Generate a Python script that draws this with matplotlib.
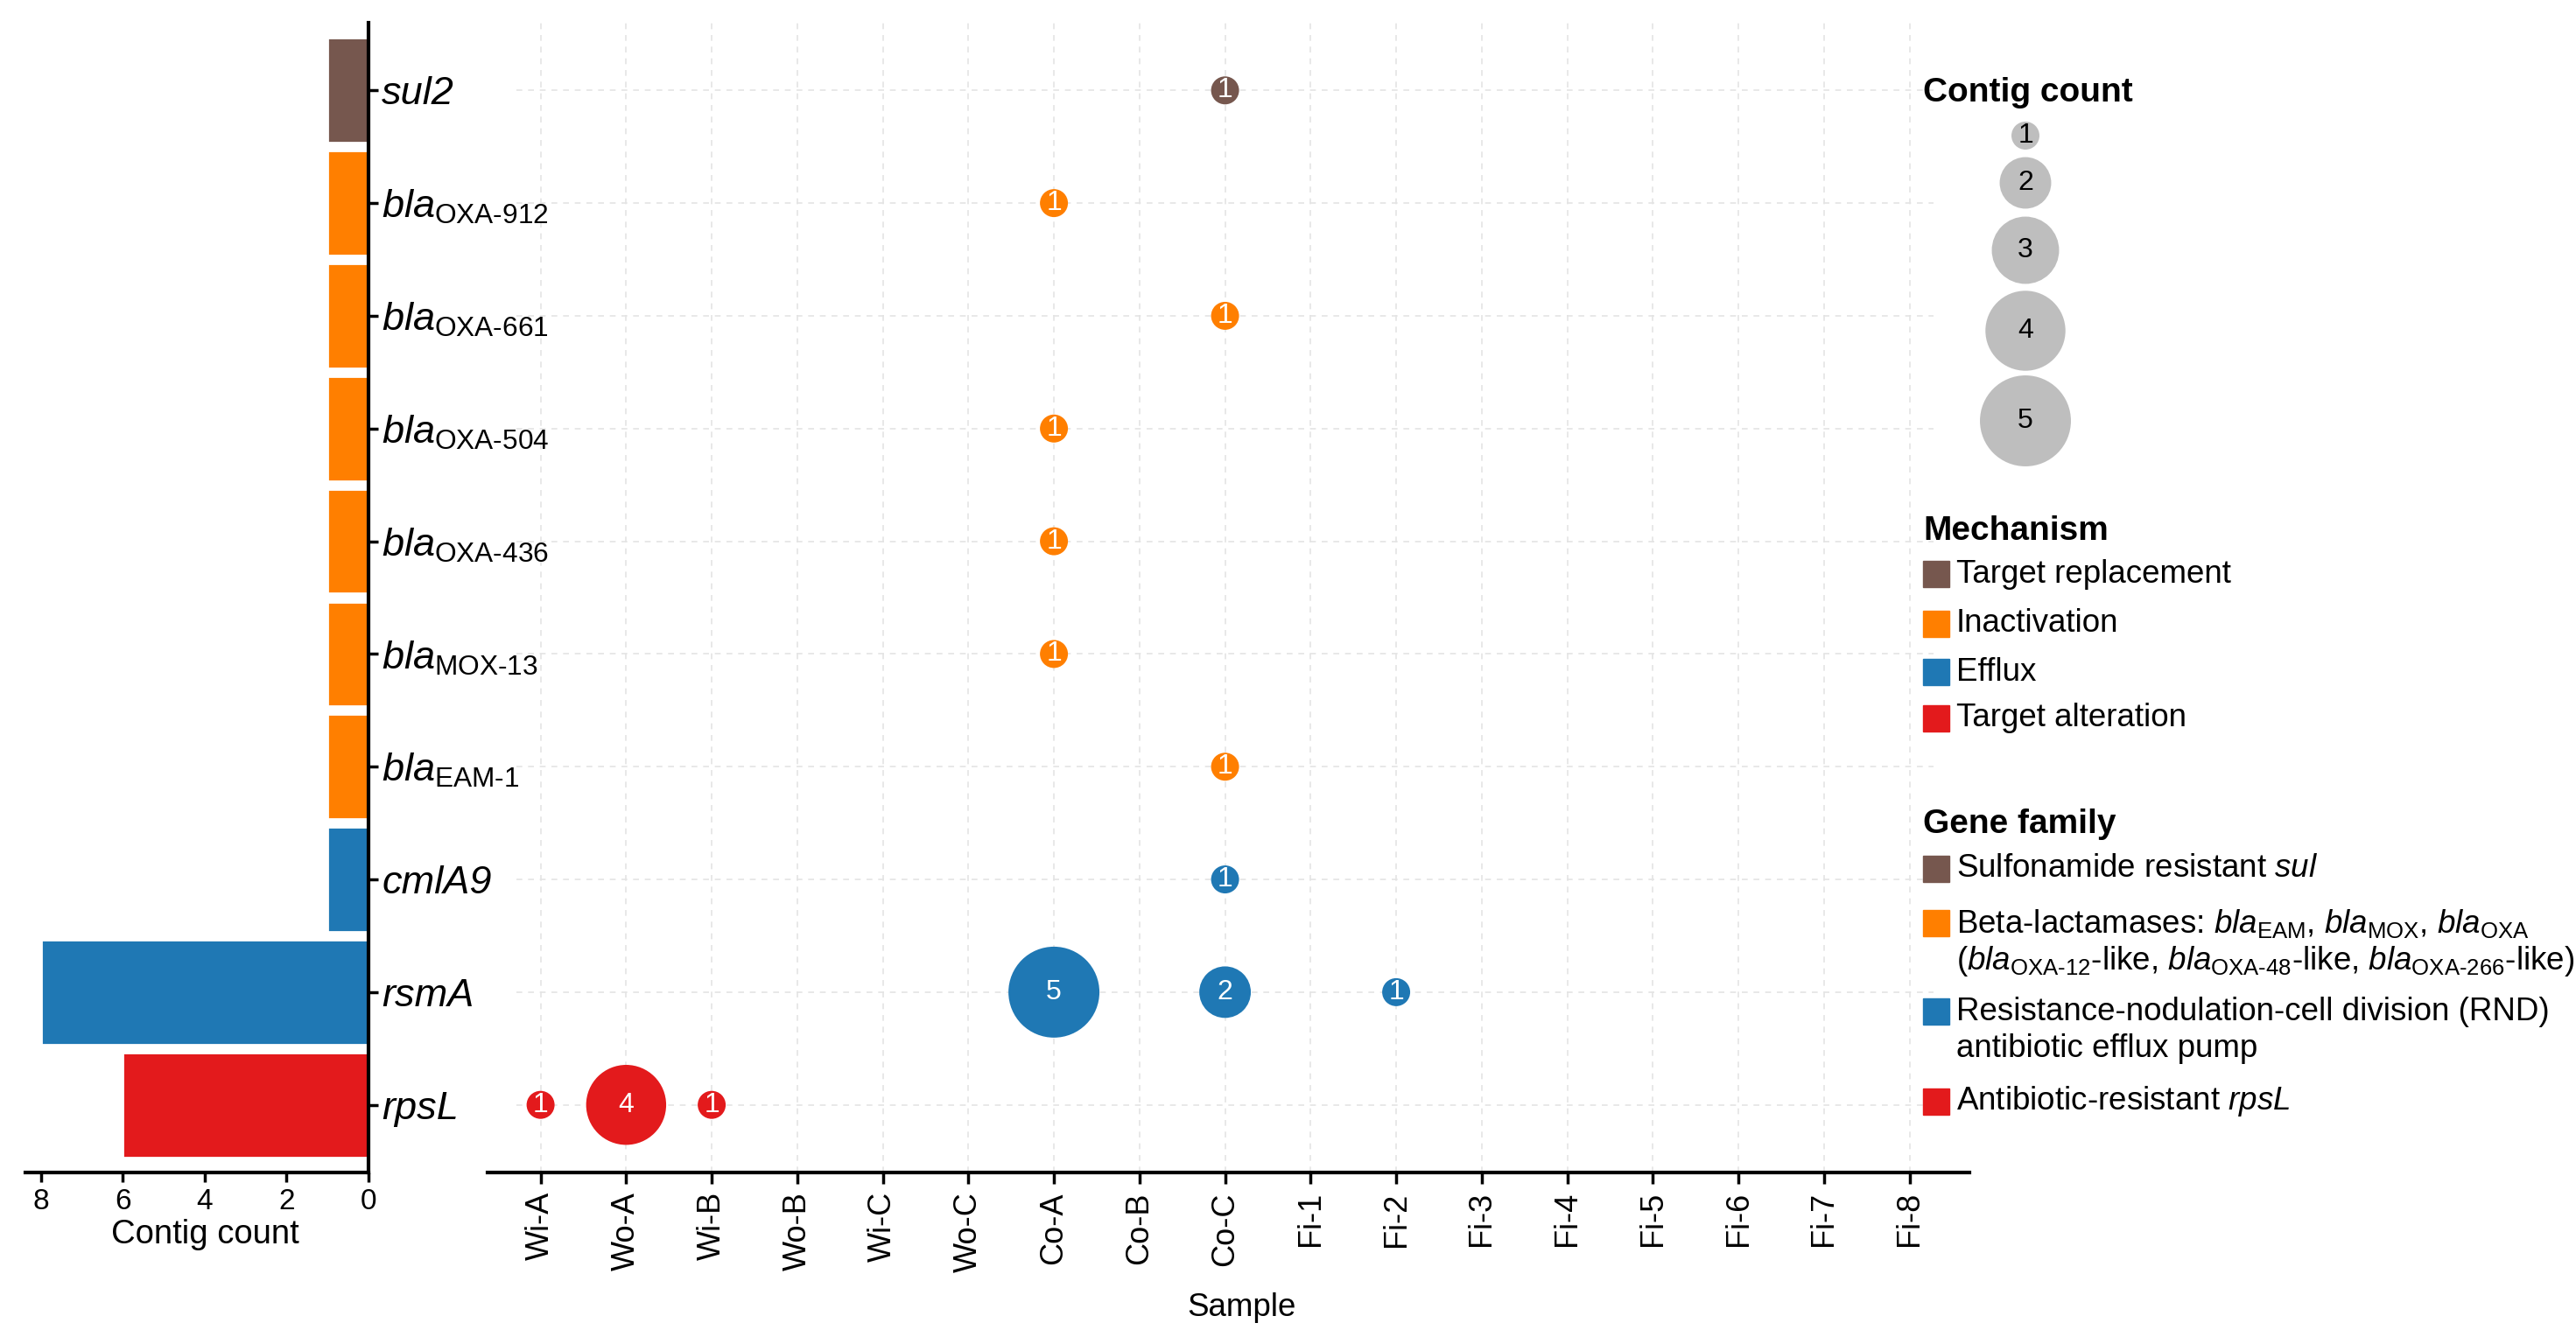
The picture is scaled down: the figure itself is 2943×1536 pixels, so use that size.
import numpy as np
import matplotlib
matplotlib.use("Agg")
import matplotlib.pyplot as plt
from matplotlib.patches import Rectangle

plt.rcParams['font.family'] = ['Liberation Sans', 'DejaVu Sans']
plt.rcParams['mathtext.fontset'] = 'custom'
plt.rcParams['mathtext.rm'] = 'Liberation Sans'
plt.rcParams['mathtext.it'] = 'Liberation Sans:italic'
plt.rcParams['mathtext.bf'] = 'Liberation Sans:bold'

# genes, top to bottom, with their resistance mechanism
genes = ['sul2', 'blaOXA-912', 'blaOXA-661', 'blaOXA-504', 'blaOXA-436',
         'blaMOX-13', 'blaEAM-1', 'cmlA9', 'rsmA', 'rpsL']
gene_mech = ['Target replacement', 'Inactivation', 'Inactivation', 'Inactivation',
             'Inactivation', 'Inactivation', 'Inactivation', 'Efflux', 'Efflux',
             'Target alteration']

samples = ['Wi-A', 'Wo-A', 'Wi-B', 'Wo-B', 'Wi-C', 'Wo-C', 'Co-A', 'Co-B', 'Co-C',
           'Fi-1', 'Fi-2', 'Fi-3', 'Fi-4', 'Fi-5', 'Fi-6', 'Fi-7', 'Fi-8']

# contig hits per gene and sample
hit_gene = ['sul2', 'blaOXA-912', 'blaOXA-661', 'blaOXA-504', 'blaOXA-436',
            'blaMOX-13', 'blaEAM-1', 'cmlA9', 'rsmA', 'rsmA', 'rsmA',
            'rpsL', 'rpsL', 'rpsL']
hit_sample = ['Co-C', 'Co-A', 'Co-C', 'Co-A', 'Co-A', 'Co-A', 'Co-C', 'Co-C',
              'Co-A', 'Co-C', 'Fi-2', 'Wi-A', 'Wo-A', 'Wi-B']
hit_count = [1, 1, 1, 1, 1, 1, 1, 1, 5, 2, 1, 1, 4, 1]

mech_names = ['Target replacement', 'Inactivation', 'Efflux', 'Target alteration']
mech_colors = ['#76574E', '#FF7F00', '#1F78B4', '#E31A1C']

family_lines = [
    ['Sulfonamide resistant $\\mathit{sul}$'],
    ['Beta-lactamases: $\\mathit{bla}_{\\mathrm{EAM}}$, $\\mathit{bla}_{\\mathrm{MOX}}$, '
     '$\\mathit{bla}_{\\mathrm{OXA}}$',
     '($\\mathit{bla}_{\\mathrm{OXA}\\text{-}\\mathrm{12}}$-like, '
     '$\\mathit{bla}_{\\mathrm{OXA}\\text{-}\\mathrm{48}}$-like, '
     '$\\mathit{bla}_{\\mathrm{OXA}\\text{-}\\mathrm{266}}$-like)'],
    ['Resistance-nodulation-cell division (RND)', 'antibiotic efflux pump'],
    ['Antibiotic-resistant $\\mathit{rpsL}$'],
]
family_colors = ['#76574E', '#FF7F00', '#1F78B4', '#E31A1C']

color_of = dict(zip(mech_names, mech_colors))
gene_colors = [color_of[m] for m in gene_mech]
gene_pos = {g: i for i, g in enumerate(genes)}
sample_pos = {s: i for i, s in enumerate(samples)}
totals = [sum(c for g, c in zip(hit_gene, hit_count) if g == name) for name in genes]


def gene_label(g):
    if g.startswith('bla'):
        a, b = g[3:].split('-')
        return r'$\mathit{bla}_{\mathrm{%s}\text{-}\mathrm{%s}}$' % (a, b)
    return g


def dot_size(n):
    return 530 + (np.asarray(n, dtype=float) - 1) / 4 * (5600 - 530)


W, H = 2943, 1536
fig = plt.figure(figsize=(W / 100, H / 100), dpi=100)

bottom = (H - 1340) / H
height = 1314 / H
ax_dot = fig.add_axes([557 / W, bottom, 1693 / W, height])
ax_bar = fig.add_axes([29 / W, bottom, 392 / W, height])
ax_bar.set_zorder(3)
ax_bar.patch.set_visible(False)

# bar panel
ax_bar.barh(range(len(genes)), totals, height=0.93, color=gene_colors,
            edgecolor='white', linewidth=2)
ax_bar.set_xlim(8.385, 0)
ax_bar.set_ylim(len(genes) - 0.4, -0.6)
ax_bar.set_xticks([8, 6, 4, 2, 0])
ax_bar.yaxis.tick_right()
ax_bar.set_yticks(range(len(genes)))
ax_bar.set_yticklabels([gene_label(g) for g in genes], fontstyle='italic')
for side in ['top', 'left']:
    ax_bar.spines[side].set_visible(False)
for side in ['right', 'bottom']:
    ax_bar.spines[side].set_linewidth(3)
ax_bar.tick_params(axis='x', length=8, width=2.5, labelsize=24, pad=5)
ax_bar.tick_params(axis='y', length=8, width=2.5, labelsize=32.5, pad=3)

# dot panel
ax_dot.set_xlim(-0.62, len(samples) - 0.3)
ax_dot.set_ylim(len(genes) - 0.4, -0.6)
ax_dot.set_xticks(range(len(samples)))
ax_dot.set_xticklabels(samples, rotation=90)
ax_dot.set_yticks([])
ax_dot.patch.set_visible(False)
ax_dot.grid(axis='x', color='#E4E4E4', linestyle=(0, (4, 4)), linewidth=1.2)
ax_dot.hlines(range(len(genes)), -0.28, len(samples) - 0.72, color='#E4E4E4',
              linestyle=(0, (4, 4)), linewidth=1.2, zorder=1)
ax_dot.set_axisbelow(True)
for side in ['top', 'left', 'right']:
    ax_dot.spines[side].set_visible(False)
ax_dot.spines['bottom'].set_linewidth(3)
ax_dot.tick_params(axis='x', length=9, width=2.5, labelsize=26, pad=7)

hx = [sample_pos[s] for s in hit_sample]
hy = [gene_pos[g] for g in hit_gene]
hc = [gene_colors[gene_pos[g]] for g in hit_gene]
ax_dot.scatter(hx, hy, s=dot_size(hit_count), c=hc, edgecolors='none', zorder=3)
for x, y, n in zip(hx, hy, hit_count):
    ax_dot.text(x, y, str(n), color='white', fontsize=23, ha='center',
                va='center', zorder=4)

fig.text(234 / W, 1 - 1411 / H, 'Contig count', fontsize=27.5, ha='center', va='center')
fig.text(1418 / W, 1 - 1495 / H, 'Sample', fontsize=26.5, ha='center', va='center')

# legends, drawn on an overlay in pixel coordinates
ax_leg = fig.add_axes([0, 0, 1, 1])
ax_leg.set_xlim(0, W)
ax_leg.set_ylim(H, 0)
ax_leg.axis('off')

lx = 2197
ax_leg.text(lx, 106, 'Contig count', fontsize=28, fontweight='bold', va='center')
legend_counts = [1, 2, 3, 4, 5]
legend_y = [155, 209, 286, 378, 481]
ax_leg.scatter([2314] * 5, legend_y, s=dot_size(legend_counts), c='#BEBEBE',
               edgecolors='none')
for y, n in zip(legend_y, legend_counts):
    ax_leg.text(2314, y, str(n), fontsize=23, ha='center', va='center')

ax_leg.text(lx, 607, 'Mechanism', fontsize=28, fontweight='bold', va='center')
for y, name, col in zip([656, 713, 768, 821], mech_names, mech_colors):
    ax_leg.add_patch(Rectangle((lx, y - 15), 30, 30, color=col))
    ax_leg.text(lx + 38, y, name, fontsize=26.5, va='center')

ax_leg.text(lx, 942, 'Gene family', fontsize=28, fontweight='bold', va='center')
for y, lines, col in zip([993, 1055, 1156, 1259], family_lines, family_colors):
    ax_leg.add_patch(Rectangle((lx, y - 15), 30, 30, color=col))
    for k, line in enumerate(lines):
        ax_leg.text(lx + 38, y + 43 * k, line, fontsize=26.5, va='center')

fig.savefig('out.png', dpi=100)
